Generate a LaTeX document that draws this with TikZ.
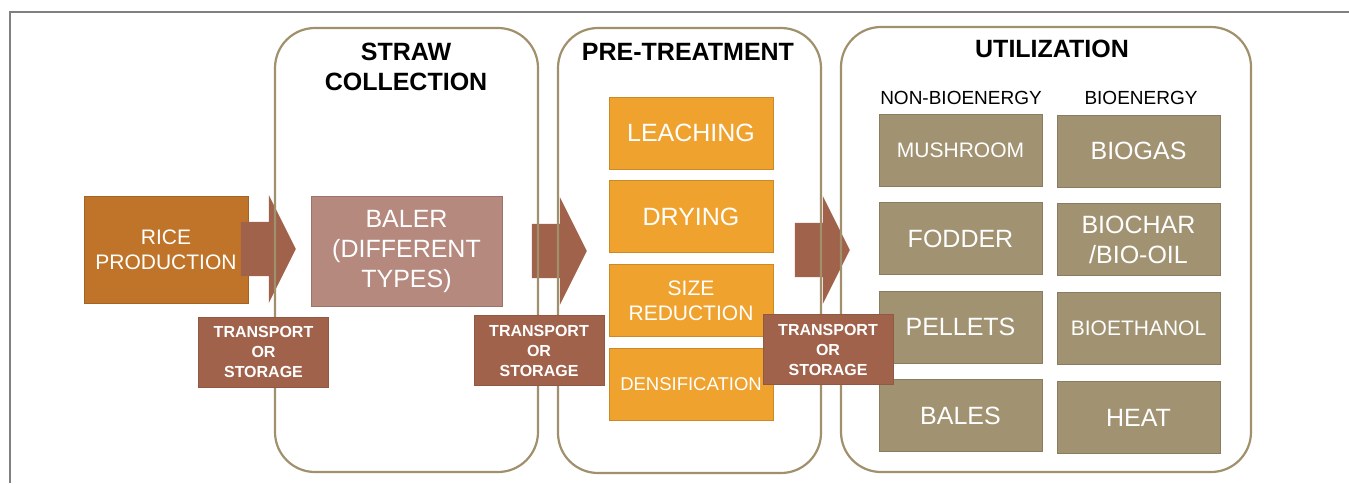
\documentclass[tikz,border=0pt]{standalone}
\usepackage{fontspec}
\setmainfont{Liberation Sans}
\usetikzlibrary{shapes.arrows, positioning}
\definecolor{riceorange}{RGB}{192,116,42}
\definecolor{balerrose}{RGB}{181,137,126}
\definecolor{transbrown}{RGB}{161,98,75}
\definecolor{pretorange}{RGB}{240,162,46}
\definecolor{utilkhaki}{RGB}{161,146,114}
\definecolor{paneledge}{RGB}{160,145,108}
\definecolor{framegray}{RGB}{128,128,128}

\begin{document}
\begin{tikzpicture}[x=1pt, y=-1pt,
    panel/.style={draw=paneledge, line width=2.2pt, rounded corners=40pt, inner sep=0pt},
    paneltitle/.style={align=center, inner sep=0pt, font=\bfseries\fontsize{25}{30}\selectfont},
    box/.style={inner sep=0pt, text=white, align=center, line width=0.8pt},
    prebox/.style={box, fill=pretorange, draw=pretorange!85!black, minimum width=164pt, minimum height=72pt},
    utilbox/.style={box, fill=utilkhaki, draw=utilkhaki!85!black, minimum width=163pt, minimum height=72pt},
    transbox/.style={box, fill=transbrown, draw=transbrown!90!black, minimum width=130pt, minimum height=70pt,
        font=\bfseries\fontsize{16}{20}\selectfont},
    blockarrow/.style={single arrow, fill=transbrown, inner xsep=0pt, inner ysep=27pt, anchor=tip,
        minimum width=108pt, minimum height=55pt, single arrow head extend=27pt, single arrow tip angle=127},
    big/.style={font=\fontsize{25}{30}\selectfont},
    mid/.style={font=\fontsize{21}{25}\selectfont}
]
\useasboundingbox (0,0) rectangle (1349,483);

% frame
\draw[framegray, line width=1.5pt] (10,483) -- (10,12) -- (1349,12);

% rice production
\node[box, mid, fill=riceorange, draw=riceorange!85!black, minimum width=164pt, minimum height=107pt]
    (rice) at (166,249.5) {RICE\\PRODUCTION};

% block arrows between the stages
\node[blockarrow] (arrA) at (296,249) {};
\node[blockarrow] (arrB) at (587,251) {};
\node[blockarrow] (arrC) at (850,250) {};

% stage panels
\node[panel, minimum width=263pt, minimum height=444pt] (straw) at (406.5,250) {};
\node[panel, minimum width=263pt, minimum height=445pt] (pret) at (689.5,250.5) {};
\node[panel, minimum width=410pt, minimum height=445pt] (util) at (1046,249.5) {};

\node[paneltitle] (strawtitle) at (406,67) {STRAW\\COLLECTION};
\node[paneltitle] (prettitle) at (688,52) {PRE-TREATMENT};
\node[paneltitle] (utiltitle) at (1052,49) {UTILIZATION};

% straw collection
\node[box, big, fill=balerrose, draw=balerrose!85!black, minimum width=191pt, minimum height=110pt]
    (baler) at (406.5,251) {BALER\\(DIFFERENT\\TYPES)};

% pre-treatment steps
\node[prebox, big] (leach) at (691,133) {LEACHING};
\node[prebox, big, below=11pt of leach] (dry) {DRYING};
\node[prebox, mid, below=11pt of dry] (size) {SIZE\\REDUCTION};
\node[prebox, font=\fontsize{18.5}{22}\selectfont, below=11pt of size] (dens) {DENSIFICATION};

% utilization options
\node[font=\fontsize{19}{22}\selectfont, inner sep=0pt] (nonbio) at (961,98) {NON-BIOENERGY};
\node[font=\fontsize{19}{22}\selectfont, inner sep=0pt] (bio) at (1141,98) {BIOENERGY};

\node[utilbox, mid] (mush) at (960.5,150.5) {MUSHROOM};
\node[utilbox, big, below=15.5pt of mush] (fodder) {FODDER};
\node[utilbox, big, below=15.5pt of fodder] (pellets) {PELLETS};
\node[utilbox, big, below=15.5pt of pellets] (bales) {BALES};

\node[utilbox, big] (biogas) at (1138.5,151) {BIOGAS};
\node[utilbox, big, below=16pt of biogas] (biochar) {BIOCHAR\\/BIO-OIL};
\node[utilbox, mid, below=16pt of biochar] (ethanol) {BIOETHANOL};
\node[utilbox, big, below=16pt of ethanol] (heat) {HEAT};

% transport / storage links
\node[transbox] (transA) at (263.5,352) {TRANSPORT\\OR\\STORAGE};
\node[transbox] (transB) at (539,350.5) {TRANSPORT\\OR\\STORAGE};
\node[transbox] (transC) at (828,349.5) {TRANSPORT\\OR\\STORAGE};
\end{tikzpicture}
\end{document}
